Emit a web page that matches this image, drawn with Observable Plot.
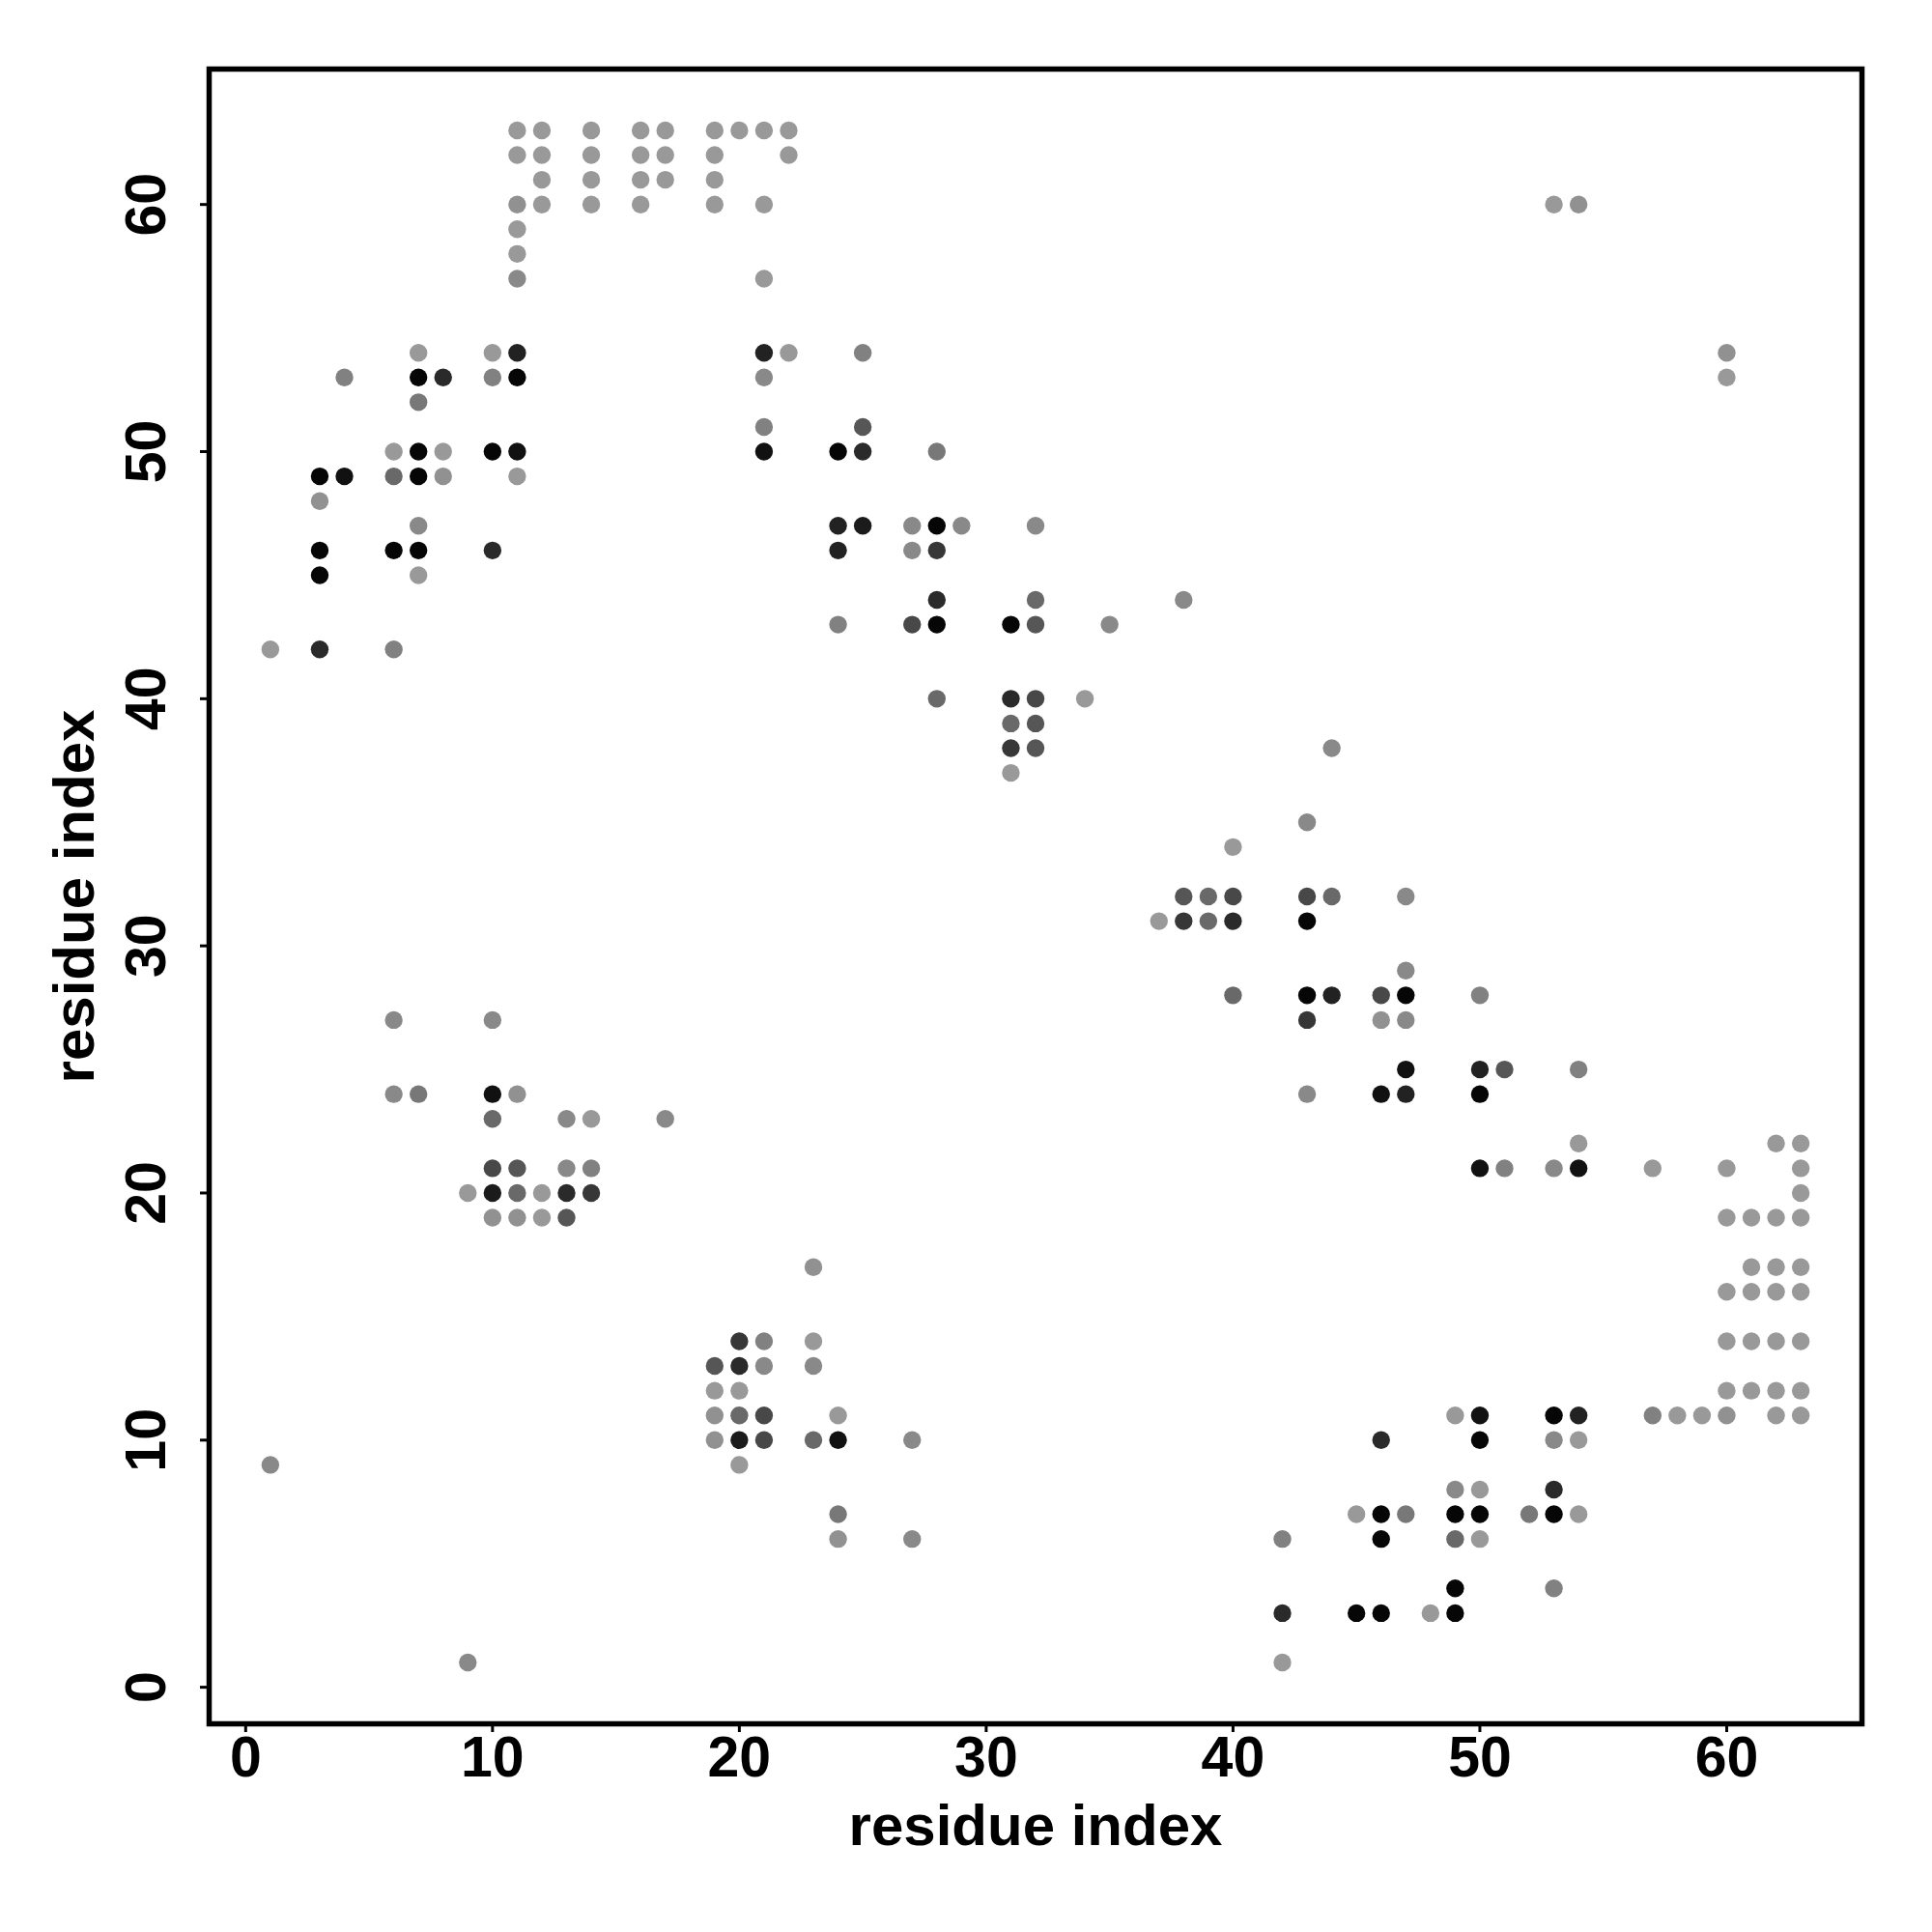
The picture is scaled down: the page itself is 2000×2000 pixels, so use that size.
<!DOCTYPE html>
<html>
<head>
<meta charset="utf-8">
<script src="https://cdn.jsdelivr.net/npm/d3@7"></script>
<script src="https://cdn.jsdelivr.net/npm/@observablehq/plot@0.6"></script>
<style>
  html, body { margin: 0; padding: 0; background: #ffffff; }
  #chart svg { display: block; }
</style>
</head>
<body>
<div id="chart"></div>
<script>
// ---- data (read from the reference contact map) ----
// residue index on the x axis, one entry per column that holds contacts
const columns = [1, 3, 4, 6, 7, 8, 9, 10, 11, 12, 13, 14, 16, 17, 19, 20, 21, 22, 23, 24, 25, 27, 28, 29, 31, 32, 34, 35, 37, 38, 39, 40, 42, 43, 44, 45, 46, 47, 48, 49, 50, 51, 52, 53, 54, 57, 58, 59, 60, 61, 62, 63];
// partner residues (y axis) for each column
const partners = [
  [42, 9],
  [49, 48, 46, 45, 42],
  [53, 49],
  [50, 49, 46, 42, 27, 24],
  [54, 53, 52, 50, 49, 47, 46, 45, 24],
  [53, 50, 49],
  [20, 1],
  [54, 53, 50, 46, 27, 24, 23, 21, 20, 19],
  [63, 62, 60, 59, 58, 57, 54, 53, 50, 49, 24, 21, 20, 19],
  [63, 62, 61, 60, 20, 19],
  [23, 21, 20, 19],
  [63, 62, 61, 60, 23, 21, 20],
  [63, 62, 61, 60],
  [63, 62, 61, 23],
  [63, 62, 61, 60, 13, 12, 11, 10],
  [63, 14, 13, 12, 11, 10, 9],
  [63, 60, 57, 54, 53, 51, 50, 14, 13, 11, 10],
  [63, 62, 54],
  [17, 14, 13, 10],
  [50, 47, 46, 43, 11, 10, 7, 6],
  [54, 51, 50, 47],
  [47, 46, 43, 10, 6],
  [50, 47, 46, 44, 43, 40],
  [47],
  [43, 40, 39, 38, 37],
  [47, 44, 43, 40, 39, 38],
  [40],
  [43],
  [31],
  [44, 32, 31],
  [32, 31],
  [34, 32, 31, 28],
  [6, 3, 1],
  [35, 32, 31, 28, 27, 24],
  [38, 32, 28],
  [7, 3],
  [28, 27, 24, 10, 7, 6, 3],
  [32, 29, 28, 27, 25, 24, 7],
  [3],
  [11, 8, 7, 6, 4, 3],
  [28, 25, 24, 21, 11, 10, 8, 7, 6],
  [25, 21],
  [7],
  [60, 21, 11, 10, 8, 7, 4],
  [60, 25, 22, 21, 11, 10, 7],
  [21, 11],
  [11],
  [11],
  [54, 53, 21, 19, 16, 14, 12, 11],
  [19, 17, 16, 14, 12],
  [22, 19, 17, 16, 14, 12, 11],
  [22, 21, 20, 19, 17, 16, 14, 12, 11]
];
// contact strength (0 = weak / light grey, 1 = strong / black) for each partner
const strengths = [
  [0.02, 0.12],
  [0.96, 0.07, 0.96, 0.96, 0.73],
  [0.17, 0.89],
  [0.02, 0.33, 0.96, 0.17, 0.12, 0.12],
  [0.02, 0.96, 0.23, 0.96, 0.96, 0.12, 0.96, 0.02, 0.23],
  [0.73, 0.02, 0.07],
  [0.02, 0.12],
  [0.02, 0.17, 0.96, 0.73, 0.12, 0.89, 0.33, 0.54, 0.83, 0.07],
  [0.02, 0.02, 0.07, 0.02, 0.02, 0.12, 0.78, 0.96, 0.89, 0.02, 0.07, 0.45, 0.33, 0.07],
  [0.02, 0.02, 0.02, 0.02, 0.02, 0.02],
  [0.12, 0.12, 0.73, 0.45],
  [0.02, 0.02, 0.02, 0.02, 0.02, 0.17, 0.65],
  [0.02, 0.02, 0.02, 0.02],
  [0.02, 0.02, 0.02, 0.12],
  [0.02, 0.02, 0.02, 0.02, 0.45, 0.02, 0.07, 0.07],
  [0.02, 0.65, 0.73, 0.02, 0.33, 0.83, 0.02],
  [0.02, 0.02, 0.02, 0.78, 0.12, 0.17, 0.89, 0.17, 0.12, 0.54, 0.54],
  [0.02, 0.02, 0.02],
  [0.07, 0.02, 0.12, 0.33],
  [0.96, 0.78, 0.78, 0.17, 0.02, 0.89, 0.23, 0.07],
  [0.17, 0.45, 0.73, 0.83],
  [0.12, 0.12, 0.54, 0.12, 0.12],
  [0.23, 0.96, 0.65, 0.73, 0.96, 0.33],
  [0.12],
  [0.96, 0.73, 0.33, 0.65, 0.02],
  [0.12, 0.33, 0.45, 0.54, 0.45, 0.45],
  [0.02],
  [0.12],
  [0.02],
  [0.12, 0.45, 0.65],
  [0.33, 0.33],
  [0.02, 0.54, 0.73, 0.33],
  [0.17, 0.73, 0.02],
  [0.12, 0.54, 0.96, 0.96, 0.65, 0.12],
  [0.12, 0.33, 0.78],
  [0.02, 0.96],
  [0.54, 0.07, 0.89, 0.73, 0.96, 0.96, 0.96],
  [0.12, 0.12, 0.96, 0.12, 0.89, 0.78, 0.23],
  [0.02],
  [0.02, 0.12, 0.96, 0.33, 0.96, 0.96],
  [0.17, 0.78, 0.96, 0.89, 0.89, 0.96, 0.02, 0.96, 0.02],
  [0.45, 0.17],
  [0.23],
  [0.02, 0.12, 0.96, 0.12, 0.73, 0.96, 0.17],
  [0.07, 0.17, 0.02, 0.89, 0.78, 0.02, 0.02],
  [0.02, 0.17],
  [0.02],
  [0.02],
  [0.07, 0.02, 0.02, 0.02, 0.02, 0.02, 0.02, 0.07],
  [0.02, 0.02, 0.02, 0.02, 0.02],
  [0.02, 0.02, 0.02, 0.02, 0.02, 0.02, 0.02],
  [0.02, 0.02, 0.02, 0.02, 0.02, 0.02, 0.02, 0.02, 0.02]
];
const xTicks = [0, 10, 20, 30, 40, 50, 60];
const yTicks = [0, 10, 20, 30, 40, 50, 60];
const xLabel = "residue index";
const yLabel = "residue index";

// ---- table for the library ----
const contacts = columns.flatMap((i, k) =>
  partners[k].map((j, m) => ({i, j, p: strengths[k][m]}))
);

const font = "'Liberation Sans', Arial, Helvetica, sans-serif";
const fs = 59;
const chart = Plot.plot({
  width: 2000,
  height: 2000,
  marginLeft: 216,
  marginRight: 73,
  marginTop: 71,
  marginBottom: 216,
  style: {fontFamily: font, fontWeight: "bold", fontSize: fs + "px", color: "black", background: "white"},
  x: {domain: [-1.48, 65.48], axis: null},
  y: {domain: [-1.48, 65.48], axis: null},
  color: {type: "linear", domain: [0, 1], range: ["#9c9c9c", "#000000"], interpolate: "rgb"},
  marks: [
    Plot.dot(contacts, {x: "i", y: "j", fill: "p", r: 9.2, stroke: "none"}),
    Plot.frame({stroke: "black", strokeWidth: 5.5}),
    Plot.axisX(xTicks, {anchor: "bottom", tickSize: 9, tickPadding: 4, strokeWidth: 3, fontSize: fs, fontWeight: "bold", label: null}),
    Plot.axisY(yTicks, {anchor: "left", tickSize: 9, tickPadding: 37, tickRotate: -90, strokeWidth: 3, fontSize: fs, fontWeight: "bold", label: null}),
    Plot.text([xLabel], {frameAnchor: "bottom", dy: 125, lineAnchor: "bottom", textAnchor: "middle", fontSize: fs + 1, fontWeight: "bold", fill: "black"}),
    Plot.text([yLabel], {frameAnchor: "left", dx: -120, rotate: -90, lineAnchor: "bottom", textAnchor: "middle", fontSize: fs + 1, fontWeight: "bold", fill: "black"})
  ]
});
document.getElementById("chart").appendChild(chart);
</script>
</body>
</html>
